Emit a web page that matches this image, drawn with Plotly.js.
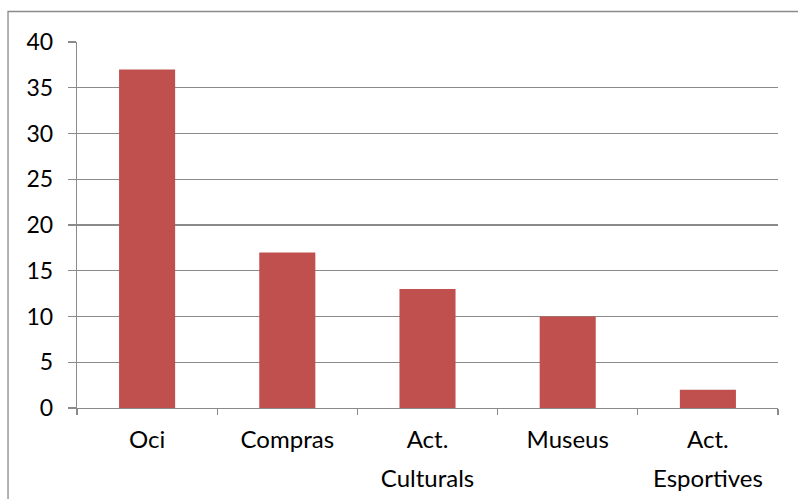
<!DOCTYPE html>
<html>
<head>
<meta charset="utf-8">
<script src="https://cdn.plot.ly/plotly-3.0.1.min.js"></script>
<style>
  html, body { margin: 0; padding: 0; background: #ffffff; }
  #chart { width: 798px; height: 499px; }
</style>
</head>
<body>
<div id="chart"></div>
<script>
// Activity categories and counts
const categories = ["Oci", "Compras", "Act. Culturals", "Museus", "Act. Esportives"];
const tickLabels = ["Oci", "Compras", "Act.<br>Culturals", "Museus", "Act.<br>Esportives"];
const counts = [37, 17, 13, 10, 2];
const yTicks = [0, 5, 10, 15, 20, 25, 30, 35, 40];

const lineGray = "#8a8a8a";
const fontFamily = "Lato, 'Open Sans', sans-serif";

const trace = {
  type: "bar",
  x: categories,
  y: counts,
  marker: { color: "#c0504d", line: { width: 0 } },
  hoverinfo: "x+y"
};

const layout = {
  width: 798,
  height: 499,
  margin: { l: 77, r: 20, t: 42, b: 91, pad: 0 },
  paper_bgcolor: "#ffffff",
  plot_bgcolor: "#ffffff",
  showlegend: false,
  bargap: 0.6,
  font: { family: fontFamily, size: 24, color: "#000000" },
  xaxis: {
    type: "category",
    tickmode: "array",
    tickvals: categories,
    ticktext: tickLabels,
    tickson: "boundaries",
    ticks: "outside",
    ticklen: 6,
    tickwidth: 1.3,
    tickcolor: lineGray,
    showgrid: false,
    showline: true,
    linecolor: lineGray,
    linewidth: 1.3,
    zeroline: false,
    tickfont: { family: fontFamily, size: 24, color: "#000000" },
    ticklabelstandoff: 10
  },
  yaxis: {
    range: [0, 40],
    tickmode: "array",
    tickvals: yTicks,
    ticks: "outside",
    ticklen: 8,
    tickwidth: 1.3,
    tickcolor: lineGray,
    showgrid: true,
    gridcolor: lineGray,
    gridwidth: 1.3,
    showline: true,
    linecolor: lineGray,
    linewidth: 1.3,
    zeroline: false,
    tickfont: { family: fontFamily, size: 23, color: "#000000" },
    ticklabelstandoff: 10
  },
  shapes: [
    {
      type: "rect",
      xref: "paper", yref: "paper",
      x0: -0.0984, x1: 1.2,
      y0: -0.5, y1: 1.0833,
      line: { color: lineGray, width: 1.3 },
      fillcolor: "rgba(0,0,0,0)",
      layer: "below"
    }
  ]
};

Plotly.newPlot("chart", [trace], layout, { displayModeBar: false, staticPlot: true }).then(function (gd) {
  // open up the spacing between the two lines of the wrapped category labels
  gd.querySelectorAll(".xtick text tspan.line").forEach(function (t, i) {
    if (t.getAttribute("dy") && parseFloat(t.getAttribute("dy")) > 0) {
      t.setAttribute("dy", "1.6em");
    }
  });
});
</script>
</body>
</html>
